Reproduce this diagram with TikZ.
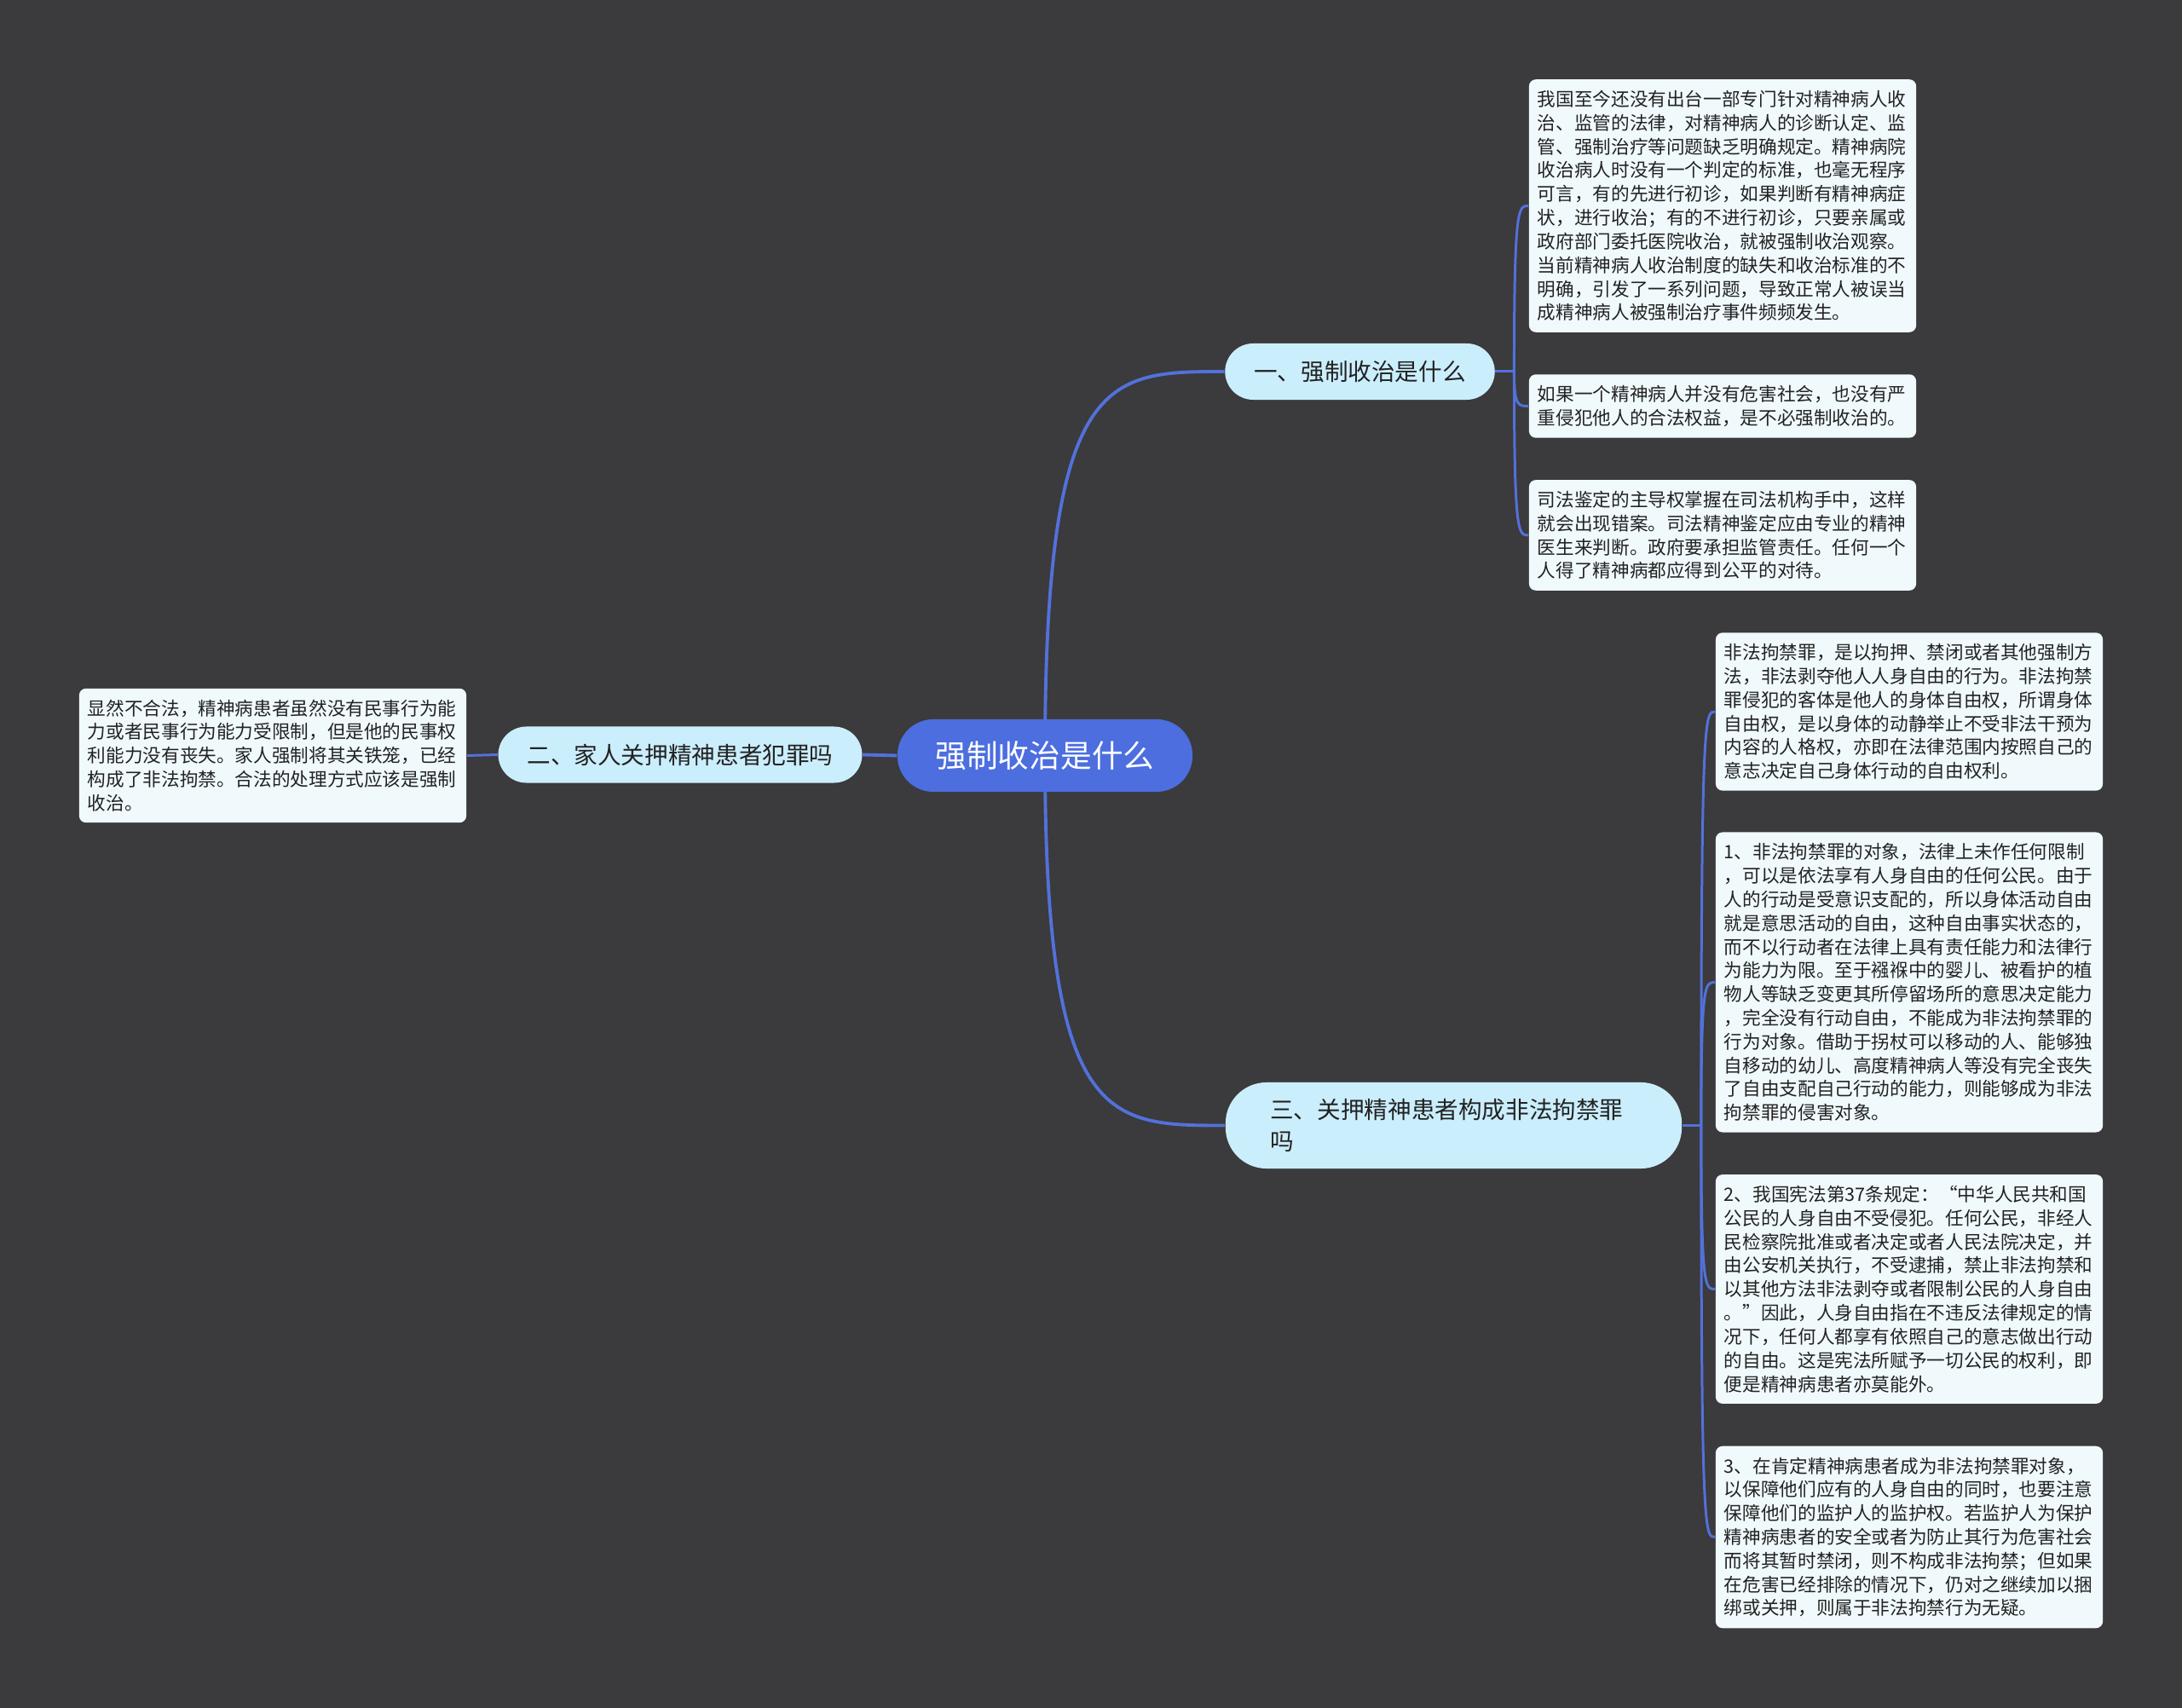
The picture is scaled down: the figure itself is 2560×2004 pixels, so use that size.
\documentclass[tikz,border=0pt]{standalone}
\usepackage{fontspec}
\setmainfont{Noto Sans CJK SC}
\usepackage{xcolor}
\usepackage{tikz}
\usetikzlibrary{calc,backgrounds}

\definecolor{bgdark}{HTML}{3B3A3C}
\definecolor{rootblue}{HTML}{4C6EDF}
\definecolor{linkblue}{HTML}{5271DA}
\definecolor{topicfill}{HTML}{CBEEFD}
\definecolor{notefill}{HTML}{F0FAFD}
\definecolor{inkgrey}{HTML}{222222}

\begin{document}
\begin{tikzpicture}[
  x=0.01cm, y=-0.01cm,
  root/.style={fill=rootblue, text=white, rounded corners=0.42cm, minimum width=3.46cm, minimum height=0.85cm, inner sep=0pt, font=\fontsize{10.44pt}{12pt}\selectfont},
  topic/.style={fill=topicfill, text=inkgrey, rounded corners=0.33cm, minimum height=0.66cm, inner xsep=0.34cm, inner ysep=0pt, font=\fontsize{7.85pt}{10.53pt}\selectfont},
  note/.style={fill=notefill, text=inkgrey, rounded corners=0.08cm, align=left, text width=4.34cm, inner xsep=0.1cm, inner ysep=0.13cm, font=\fontsize{6.15pt}{7.91pt}\selectfont},
  link/.style={draw=linkblue, line width=1.1pt},
  sublink/.style={draw=linkblue, line width=0.85pt}
]
\node[root] (root) at (1226,886.5) {强制收治是什么};
\node[topic, minimum width=3.15cm] (n1) at (1595.5,436) {一、强制收治是什么};
\node[topic, minimum width=4.26cm] (n2) at (798,885.5) {二、家人关押精神患者犯罪吗};
\node[topic, minimum width=5.35cm, minimum height=1.01cm, rounded corners=0.48cm, text width=4.3cm, align=left] (n3) at (1705.5,1320.5) {三、关押精神患者构成非法拘禁罪\\吗};

% notes of the first topic
\node[note] (l1a) at (2021,241.5) {我国至今还没有出台一部专门针对精神病人收\\
治、监管的法律，对精神病人的诊断认定、监\\
管、强制治疗等问题缺乏明确规定。精神病院\\
收治病人时没有一个判定的标准，也毫无程序\\
可言，有的先进行初诊，如果判断有精神病症\\
状，进行收治；有的不进行初诊，只要亲属或\\
政府部门委托医院收治，就被强制收治观察。\\
当前精神病人收治制度的缺失和收治标准的不\\
明确，引发了一系列问题，导致正常人被误当\\
成精神病人被强制治疗事件频频发生。};
\node[note] (l1b) at (2021,476.5) {如果一个精神病人并没有危害社会，也没有严\\
重侵犯他人的合法权益，是不必强制收治的。};
\node[note] (l1c) at (2021,628) {司法鉴定的主导权掌握在司法机构手中，这样\\
就会出现错案。司法精神鉴定应由专业的精神\\
医生来判断。政府要承担监管责任。任何一个\\
人得了精神病都应得到公平的对待。};

% note of the second topic
\node[note] (l2) at (320,886.5) {显然不合法，精神病患者虽然没有民事行为能\\
力或者民事行为能力受限制，但是他的民事权\\
利能力没有丧失。家人强制将其关铁笼，已经\\
构成了非法拘禁。合法的处理方式应该是强制\\
收治。};

% notes of the third topic
\node[note] (l3a) at (2240,835) {非法拘禁罪，是以拘押、禁闭或者其他强制方\\
法，非法剥夺他人人身自由的行为。非法拘禁\\
罪侵犯的客体是他人的身体自由权，所谓身体\\
自由权，是以身体的动静举止不受非法干预为\\
内容的人格权，亦即在法律范围内按照自己的\\
意志决定自己身体行动的自由权利。};
\node[note] (l3b) at (2240,1152.5) {1、非法拘禁罪的对象，法律上未作任何限制\\
，可以是依法享有人身自由的任何公民。由于\\
人的行动是受意识支配的，所以身体活动自由\\
就是意思活动的自由，这种自由事实状态的，\\
而不以行动者在法律上具有责任能力和法律行\\
为能力为限。至于襁褓中的婴儿、被看护的植\\
物人等缺乏变更其所停留场所的意思决定能力\\
，完全没有行动自由，不能成为非法拘禁罪的\\
行为对象。借助于拐杖可以移动的人、能够独\\
自移动的幼儿、高度精神病人等没有完全丧失\\
了自由支配自己行动的能力，则能够成为非法\\
拘禁罪的侵害对象。};
\node[note] (l3c) at (2240,1512.5) {2、我国宪法第37条规定：“中华人民共和国\\
公民的人身自由不受侵犯。任何公民，非经人\\
民检察院批准或者决定或者人民法院决定，并\\
由公安机关执行，不受逮捕，禁止非法拘禁和\\
以其他方法非法剥夺或者限制公民的人身自由\\
。”因此，人身自由指在不违反法律规定的情\\
况下，任何人都享有依照自己的意志做出行动\\
的自由。这是宪法所赋予一切公民的权利，即\\
便是精神病患者亦莫能外。};
\node[note] (l3d) at (2240,1803.5) {3、在肯定精神病患者成为非法拘禁罪对象，\\
以保障他们应有的人身自由的同时，也要注意\\
保障他们的监护人的监护权。若监护人为保护\\
精神病患者的安全或者为防止其行为危害社会\\
而将其暂时禁闭，则不构成非法拘禁；但如果\\
在危害已经排除的情况下，仍对之继续加以捆\\
绑或关押，则属于非法拘禁行为无疑。};

\begin{pgfonlayer}{background}
\fill[bgdark] (0,0) rectangle (2560,2004);
% root to topics
\draw[link] (root.center) .. controls (root.center |- n1.west) and ($(n1.west)+(-138,0)$) .. (n1.west);
\draw[link] (root.center) .. controls (root.center |- n3.west) and ($(n3.west)+(-138,0)$) .. (n3.west);
\draw[link] (root.west) -- (n2.east);
% topics to notes
\draw[sublink] (n2.west) -- (l2.east);
\draw[sublink] (n1.east) -- ++(22,0) coordinate (f1);
\foreach \leaf in {l1a,l1b,l1c}
  \draw[sublink] (f1) .. controls (f1 |- \leaf.west) and ($(\leaf.west)+(-12,0)$) .. (\leaf.west);
\draw[sublink] (n3.east) -- ++(22,0) coordinate (f3);
\foreach \leaf in {l3a,l3b,l3c,l3d}
  \draw[sublink] (f3) .. controls (f3 |- \leaf.west) and ($(\leaf.west)+(-12,0)$) .. (\leaf.west);
\end{pgfonlayer}
\end{tikzpicture}
\end{document}
